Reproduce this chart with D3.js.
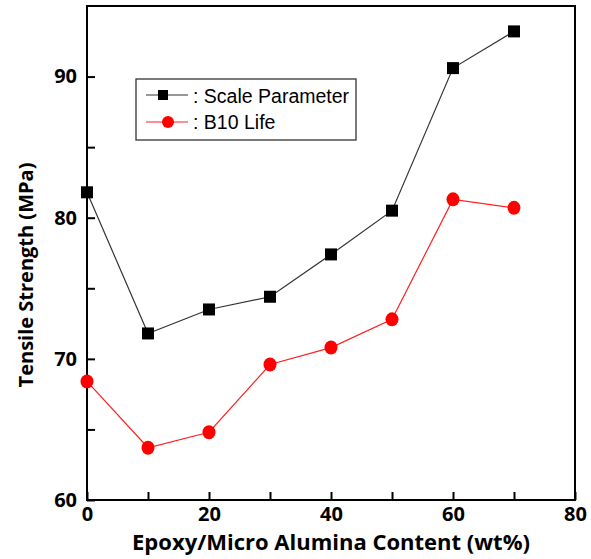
<!DOCTYPE html>
<html><head><meta charset="utf-8">
<script src="https://cdn.jsdelivr.net/npm/d3@7"></script>
<style>body{margin:0;background:#fff}</style>
</head><body>
<svg id="c" width="591" height="559"></svg>
<script>
const content = [0,10,20,30,40,50,60,70];
const scaleParameter = [81.8,71.8,73.5,74.4,77.4,80.5,90.6,93.2];
const b10Life = [68.4,63.7,64.8,69.6,70.8,72.8,81.3,80.7];
const xTicks = [0,20,40,60,80];
const xMinor = [10,30,50,70];
const yTicks = [60,70,80,90];
const yMinor = [65,75,85];

const svg = d3.select('#c');
const L=87,R=575,T=6,B=500;
const x = d3.scaleLinear().domain([0,80]).range([L,R]);
const y = d3.scaleLinear().domain([60,95]).range([B,T]);
const tf = 'bold 20px "Open Sans", sans-serif';

// frame
svg.append('rect').attr('x',L).attr('y',T).attr('width',R-L).attr('height',B-T)
  .attr('fill','none').attr('stroke','#000').attr('stroke-width',2);

const xa = svg.append('g').attr('transform',`translate(0,${B})`)
  .call(d3.axisBottom(x).tickValues(xTicks.concat(xMinor)).tickSize(-8).tickPadding(12).tickFormat(d=>xTicks.includes(d)?d:''));
const ya = svg.append('g').attr('transform',`translate(${L},0)`)
  .call(d3.axisLeft(y).tickValues(yTicks.concat(yMinor)).tickSize(-8).tickPadding(10).tickFormat(d=>yTicks.includes(d)?d:''));
[xa,ya].forEach(a=>{
  a.select('.domain').remove();
  a.selectAll('line').attr('stroke','#000').attr('stroke-width',2);
  a.selectAll('text').style('font',tf).attr('fill','#000');
});
xa.selectAll('text').attr('y',20.5).attr('dy',0);

// lines
const line = d3.line().x((d,i)=>x(content[i])).y(d=>y(d));
svg.append('path').datum(scaleParameter).attr('d',line).attr('fill','none').attr('stroke','#333').attr('stroke-width',1.2);
svg.append('path').datum(b10Life).attr('d',line).attr('fill','none').attr('stroke','#ff2020').attr('stroke-width',1.2);
svg.selectAll('.sq').data(scaleParameter).enter().append('rect')
  .attr('x',(d,i)=>x(content[i])-6).attr('y',d=>y(d)-6).attr('width',12).attr('height',12).attr('fill','#000');
svg.selectAll('.ci').data(b10Life).enter().append('ellipse')
  .attr('cx',(d,i)=>x(content[i])).attr('cy',d=>y(d)).attr('rx',6.5).attr('ry',7).attr('fill','#ff0000');

// legend
const lf = '19.5px "Liberation Sans", Arial, sans-serif';
const lg = svg.append('g');
lg.append('rect').attr('x',136).attr('y',79).attr('width',220).attr('height',61).attr('fill','#fff').attr('stroke','#333').attr('stroke-width',1.3);
lg.append('line').attr('x1',146).attr('x2',188).attr('y1',95).attr('y2',95).attr('stroke','#333').attr('stroke-width',1.2);
lg.append('rect').attr('x',158).attr('y',90).attr('width',10).attr('height',10).attr('fill','#000');
lg.append('line').attr('x1',146).attr('x2',188).attr('y1',122).attr('y2',122).attr('stroke','#ff2020').attr('stroke-width',1.2);
lg.append('circle').attr('cx',168).attr('cy',122).attr('r',6).attr('fill','#ff0000');
lg.append('text').attr('x',193).attr('y',103).text(': Scale Parameter').style('font',lf);
lg.append('text').attr('x',193).attr('y',129).text(': B10 Life').style('font',lf);

// axis titles
svg.append('text').attr('x',331).attr('y',550).attr('text-anchor','middle').text('Epoxy/Micro Alumina Content (wt%)').style('font','bold 22px "Open Sans", sans-serif');
svg.append('text').attr('transform','translate(33,275) rotate(-90)').attr('text-anchor','middle').text('Tensile Strength (MPa)').style('font','bold 20px "Open Sans", sans-serif');
</script>
</body></html>
